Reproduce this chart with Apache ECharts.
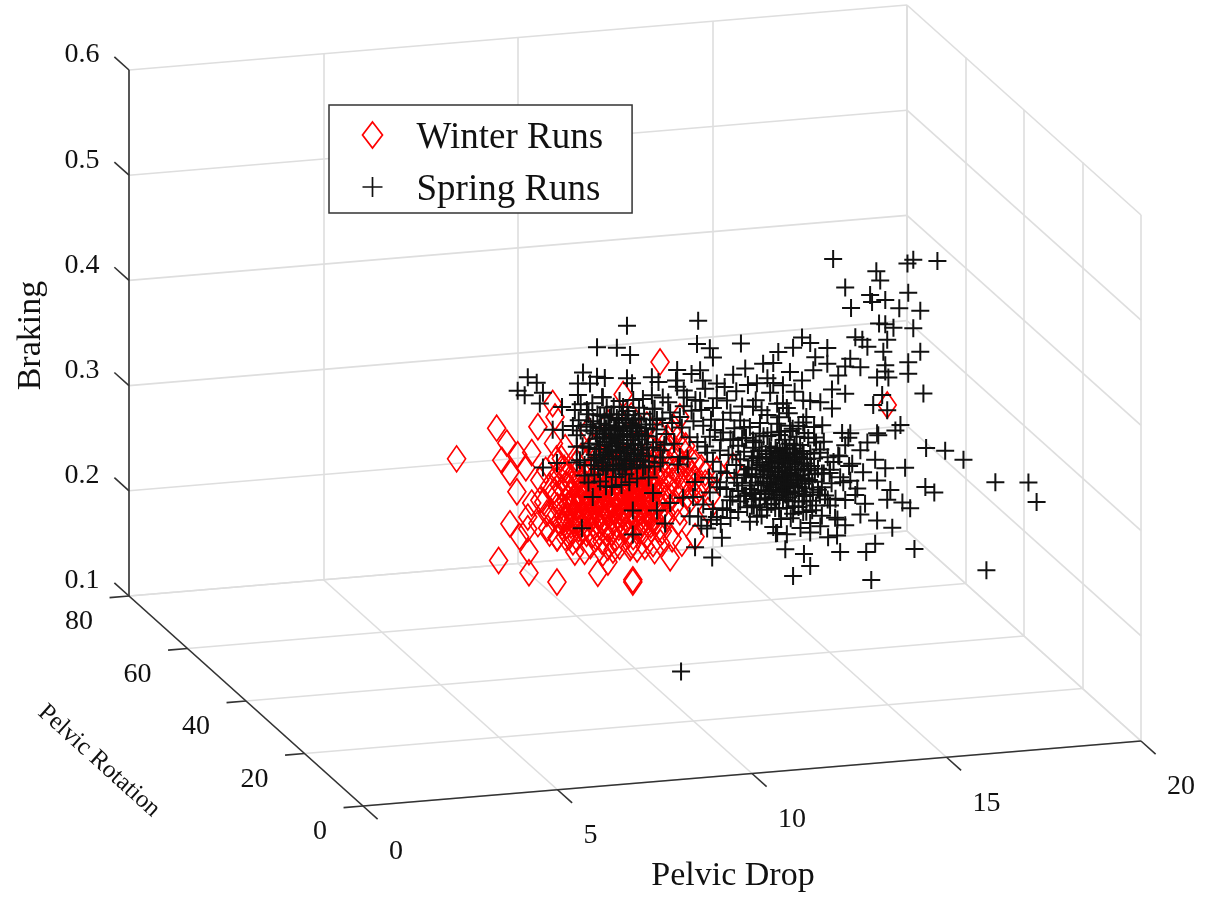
<!DOCTYPE html>
<html><head><meta charset="utf-8">
<style>html,body{margin:0;padding:0;background:#fff}#c{width:1215px;height:897px}</style>
<script src="https://cdn.jsdelivr.net/npm/echarts@6/dist/echarts.min.js"></script>
</head><body><div id="c"></div>
<script>
const dropTicks=[0,5,10,15,20];
const rotationTicks=[0,20,40,60,80];
const brakingTicks=[0.1,0.2,0.3,0.4,0.5,0.6];
const rotationEstimate=20;
const winterRuns=[[3.91,.368],[4.94,.394],[6.00,.392],[6.38,.413],[6.44,.400],[5.20,.379],[5.48,.367],[5.07,.363],[5.84,.368],[5.28,.351],[5.69,.354],[5.46,.332],[5.84,.320],[5.28,.302],[5.74,.307],[5.53,.289],[5.74,.296],[6.00,.300],[6.49,.285],[5.77,.274],[4.99,.268],[5.77,.254],[6.49,.243],[7.54,.248],[7.67,.267],[7.93,.269],[7.80,.258],[8.44,.237],[8.19,.416],[6.05,.341],[6.05,.322],[6.23,.309],[9.14,.444],[9.65,.390],[11.02,.339],[9.86,.341],[10.60,.337],[10.37,.299],[10.04,.275],[9.40,.257],[8.44,.239],[8.37,.270],[8.96,.272],[9.70,.270],[14.98,.385],
[6.2,.350],[6.3,.335],[6.15,.320],[6.35,.310],[6.5,.345],[6.45,.325],[6.55,.300],[6.6,.360],[6.25,.295],[6.7,.285],[6.6,.315],[6.4,.375],[6.7,.370],
[6.9,.280],[7.2,.270],[7.4,.285],[7.65,.278],[7.9,.285],[8.1,.272],[8.3,.282],[8.55,.268],[8.8,.280],[9.0,.265],[9.2,.283],[9.45,.275],[9.6,.290],[7.05,.292],[7.6,.292],[8.2,.293],[8.7,.293],
[9.1,.300],[9.3,.315],[9.5,.305],[9.7,.320],[9.9,.310],[10.1,.318],[10.3,.325],[9.2,.340],[9.45,.330],[9.7,.345],[9.95,.335],[10.2,.340],[9.3,.360],[9.55,.355],[9.8,.362],[9.05,.352],[9.2,.320],[9.4,.345],[10.45,.312],[9.15,.375],[9.5,.380],
[7.1,.360],[7.4,.370],[7.7,.355],[8.0,.365],[8.3,.358],[8.6,.372],[8.9,.362],[7.3,.385],[7.8,.390],[8.4,.395],[8.8,.385],[7.5,.350],[8.15,.352],[8.75,.350],
[6.85,.296],[7.08,.298],[7.27,.295],[7.52,.297],[7.69,.299],[7.93,.295],[8.12,.297],[8.28,.296],[8.51,.298],[8.72,.295],[8.9,.297],
[6.75,.304],[6.98,.305],[7.18,.303],[7.4,.306],[7.58,.304],[7.83,.303],[8.0,.305],[8.22,.304],[8.41,.306],[8.63,.303],[8.82,.305],[9.02,.304],
[6.83,.311],[7.05,.313],[7.29,.312],[7.47,.310],[7.72,.311],[7.9,.313],[8.13,.312],[8.3,.310],[8.55,.313],[8.74,.311],[8.93,.310],[9.12,.309],
[6.72,.319],[6.95,.318],[7.16,.320],[7.38,.319],[7.6,.317],[7.8,.320],[8.04,.318],[8.23,.319],[8.44,.317],[8.65,.320],[8.85,.318],[9.05,.319],
[6.82,.326],[7.06,.327],[7.25,.325],[7.5,.326],[7.7,.328],[7.92,.325],[8.1,.327],[8.34,.326],[8.52,.328],[8.76,.325],[8.95,.327],
[6.75,.333],[6.97,.335],[7.18,.334],[7.42,.332],[7.62,.335],[7.84,.333],[8.03,.334],[8.25,.332],[8.46,.335],[8.67,.333],[8.88,.334],
[6.85,.342],[7.1,.341],[7.3,.343],[7.55,.342],[7.75,.340],[7.97,.343],[8.18,.341],[8.38,.342],[8.6,.340],[8.8,.343],
[6.62,.331],[6.68,.302],[6.73,.344],[6.78,.316],[6.81,.29],[6.87,.335],[6.92,.307],[6.96,.324],[7.01,.346],[7.03,.299],[7.09,.319],[7.12,.335],[7.15,.29],[7.21,.311],[7.23,.328],[7.26,.345],[7.32,.302],[7.35,.318],[7.37,.337],[7.44,.293],[7.46,.324],[7.48,.309],[7.54,.339],[7.56,.315],[7.63,.297],[7.65,.33],[7.67,.345],[7.73,.307],[7.76,.322],[7.78,.29],[7.85,.336],[7.87,.314],[7.89,.30],[7.95,.328],[7.98,.346],[8.02,.309],[8.06,.32],[8.08,.29],[8.11,.338],[8.16,.301],[8.18,.315],[8.2,.33],[8.26,.344],[8.27,.307],[8.32,.321],[8.36,.293],[8.39,.336],[8.43,.312],[8.47,.327],[8.49,.30],[8.53,.345],[8.57,.316],[8.6,.33],[8.64,.29],[8.68,.308],[8.71,.339],[8.74,.32],[8.79,.301],[8.84,.33],[8.87,.313],[8.91,.345],[8.96,.294],[8.99,.322],[9.03,.337],[9.08,.311],[7.0,.313],[7.33,.331],[7.61,.322],[7.91,.306],[8.21,.324],[8.5,.338],[8.81,.312],
[6.3,.29],[6.4,.303],[6.5,.315],[6.42,.33],[6.55,.335],[6.6,.35],[6.48,.36],[6.65,.305],[6.5,.285],[6.62,.295],[6.72,.335],[6.68,.35],
[6.8,.285],[7.0,.283],[7.25,.287],[7.5,.282],[7.75,.285],[8.0,.28],[8.25,.287],[8.45,.28],[8.65,.285],[8.9,.29],[9.1,.285],[9.3,.295],[6.95,.27],[7.35,.275],[7.8,.272],[8.4,.272],[8.75,.27],[9.15,.272],
[9.05,.293],[9.18,.305],[9.3,.30],[9.42,.315],[9.55,.32],[9.65,.30],[9.75,.33],[9.85,.315],[9.95,.32],[10.05,.33],[10.2,.325],[9.12,.33],[9.28,.335],[9.38,.325],[9.52,.34],[9.62,.335],[9.8,.345],[9.9,.35],[9.12,.345],[9.25,.35],[9.35,.37],[9.6,.37],[9.7,.36],[9.05,.36],[10.05,.345],[10.3,.335],
[6.9,.3],[7.13,.3],[7.35,.3],[7.55,.308],[7.8,.308],[8.05,.30],[8.33,.30],[8.55,.305],[8.78,.296],[6.88,.318],[7.1,.325],[7.3,.318],[7.52,.318],[7.74,.33],[7.96,.312],[8.17,.325],[8.37,.318],[8.6,.322],[8.8,.32],[9.0,.33],
[7.0,.355],[7.25,.355],[7.55,.36],[7.85,.35],[8.1,.355],[8.4,.35],[8.65,.35],[8.95,.35]];
const springRuns=[[13.59,.528],[14.70,.513],[14.80,.504],[13.90,.500],[14.54,.491],[14.59,.484],[14.93,.485],[15.52,.490],[15.50,.518],[15.65,.521],[16.27,.518],[14.05,.480],[15.29,.476],[15.83,.472],[14.77,.463],[14.93,.462],[15.14,.458],[15.65,.456],[14.16,.452],[14.34,.449],[14.47,.442],[14.98,.447],[15.83,.433],[14.88,.436],[13.44,.444],[12.79,.456],[12.56,.447],[13.00,.450],[12.18,.444],[14.03,.432],[13.13,.436],[13.44,.429],[15.52,.424],[14.93,.423],[14.29,.423],[13.90,.425],[14.93,.417],[15.52,.413],[14.72,.412],[15.01,.411],[13.72,.417],[13.08,.424],[12.48,.424],[12.79,.415],[12.05,.434],[13.56,.404],[13.90,.399],[15.91,.393],[14.85,.395],[14.62,.386],[14.98,.380],[13.56,.386],[13.26,.393],[12.82,.396],[12.30,.395],[15.32,.365],[15.19,.360],[14.72,.359],[14.03,.361],[13.82,.362],[13.31,.371],[12.82,.375],[12.48,.373],
[15.98,.341],[16.47,.337],[16.94,.327],[17.76,.303],[18.61,.300],[18.82,.281],[15.44,.324],[15.96,.304],[16.19,.298],[15.57,.285],[15.68,.246],[17.53,.220],[14.57,.220],[12.56,.230],[13.00,.238],[12.36,.256],[12.84,.250],[13.77,.249],[14.44,.247],[14.67,.254],[15.11,.268],[14.72,.276],[13.69,.265],[13.46,.264],[13.64,.282],[12.12,.272],[13.00,.279],[13.26,.275],[12.56,.289],[12.82,.290],[14.41,.293],[14.98,.295],[15.37,.291],[15.06,.304],[14.21,.308],[14.72,.314],[14.36,.323],[14.93,.325],[14.67,.334],[14.08,.332],[13.77,.320],[13.98,.357],[14.47,.351],[14.75,.357],[14.03,.316],[14.16,.302],[13.90,.298],[13.51,.294],[14.29,.283],[13.90,.274],[13.05,.291],[13.38,.304],[13.51,.328],[13.72,.341],[13.26,.348],[13.90,.350],[14.29,.344],
[12.36,.331],[12.2,.335],[12.5,.328],[12.1,.326],[12.6,.337],[12.3,.343],[12.45,.319],[12.0,.340],[12.75,.325],[11.9,.331],[12.25,.318],[12.55,.346],[12.85,.336],[11.8,.322],[12.15,.350],[12.4,.310],[12.7,.314],[12.95,.329],[11.7,.338],[12.05,.312],[12.6,.354],[13.05,.318],[11.6,.327],[12.3,.303],[12.8,.348],[11.95,.355],[13.1,.340],[11.5,.343],[12.0,.300],[12.55,.301],[13.2,.330],[11.45,.316],[11.75,.351],[12.9,.306],[12.35,.360],[11.35,.330],[13.3,.312],[11.6,.306],[12.65,.362],[12.1,.296],[11.85,.310],[12.42,.337],[12.28,.325],[12.18,.341],[12.52,.322],[12.33,.314],[12.62,.331],[12.02,.334],[12.22,.348],[12.48,.341],[12.72,.342],[11.98,.320],[12.12,.318],[12.38,.352],[12.68,.320],[12.82,.331],[11.88,.344],[11.72,.329],[13.0,.345],[12.44,.305],
[11.22,.455],[10.09,.458],[10.42,.453],[10.50,.444],[8.37,.453],[8.93,.430],[9.58,.435],[10.17,.433],[11.79,.434],[11.33,.431],[11.02,.426],[11.63,.416],[10.24,.423],[10.60,.419],[9.58,.419],[9.83,.408],[8.93,.413],[8.29,.431],[8.42,.426],[9.21,.410],[10.17,.404],[10.86,.402],[11.97,.406],[11.53,.394],[12.15,.395],[11.20,.382],[10.76,.384],[10.50,.396],[9.65,.390],[9.06,.389],[11.71,.378],[12.15,.376],[10.42,.369],[10.76,.372],[11.02,.364],[11.53,.362],[10.68,.355],[10.35,.354],[9.65,.352],[9.21,.353],[8.96,.363],[10.86,.333],[10.68,.320],[11.12,.323],[10.94,.307],[11.38,.299],[11.63,.289],[11.89,.295],[10.86,.298],[10.60,.292],[12.05,.278],[10.35,.282],[10.73,.272],[10.04,.265],[10.48,.254],[12.15,.272],[10.12,.294],[9.40,.309],[8.44,.305],[8.96,.320],[9.06,.303],[9.27,.290],[8.44,.282],[9.99,.313],[9.73,.313],[10.42,.316],[10.04,.327],[11.71,.305],
[7.52,.463],[8.03,.461],[5.74,.440],[5.97,.434],[5.48,.428],[5.66,.423],[6.13,.424],[6.05,.414],[6.62,.409],[7.16,.440],[7.52,.435],[7.72,.433],[7.03,.430],[7.34,.429],[7.03,.419],[7.67,.415],[6.38,.388],[6.64,.387],[7.00,.381],[6.49,.356],[6.13,.353],[7.08,.357],[7.13,.292],[7.41,.321],[7.90,.329],[8.19,.404],[7.77,.405],[7.26,.404],[8.29,.481],[10.12,.480],[9.68,.148],
[8.06,.370],[7.9,.375],[8.2,.366],[7.8,.362],[8.3,.378],[8.0,.385],[8.15,.355],[7.7,.380],[8.45,.368],[7.6,.370],[7.95,.350],[8.25,.392],[8.55,.380],[7.5,.358],[7.85,.395],[8.1,.345],[8.4,.352],[8.65,.362],[7.4,.384],[7.75,.345],[8.3,.400],[8.75,.375],[7.3,.368],[8.0,.338],[8.5,.392],[7.6,.398],[8.85,.355],[7.2,.352],[7.95,.405],[8.25,.340],[8.95,.385],[7.1,.385],[7.45,.342],[8.7,.345],[8.1,.410],[9.05,.368],[7.0,.370],[7.75,.330],[8.6,.402],[9.15,.348],[7.3,.400],[8.35,.332],[8.02,.362],[8.12,.378],[7.88,.368],[8.18,.384],[7.98,.376],[8.28,.360],[7.72,.372],[8.38,.372],[7.82,.384],[8.08,.392],[7.92,.358],[8.22,.350],[7.68,.356],[8.48,.358],[7.58,.386],[8.42,.386],[8.58,.372],[7.52,.376],
[10.3,.360],[10.5,.345],[10.7,.335],[10.9,.350],[11.1,.340],[11.3,.352],[10.4,.330],[10.6,.325],[10.85,.318],[11.05,.328],[11.25,.320],[11.4,.335],[11.0,.310],[11.2,.305],[10.75,.300],[11.5,.312],[11.15,.358],[10.95,.365],[11.35,.365],[11.45,.375],
[9.3,.375],[9.5,.365],[9.7,.380],[9.9,.370],[10.0,.385],[9.4,.395],[9.6,.345],[9.85,.350],[10.1,.365],[9.2,.390],[9.0,.400],[10.2,.395],[9.75,.400],
[12.4,.390],[12.6,.405],[12.9,.380],[13.1,.370],[12.7,.372],[12.2,.382],[12.5,.368],[13.0,.395],[12.3,.412],[11.9,.385],[12.0,.368],
[7.33,.372],[7.37,.351],[7.42,.393],[7.46,.361],[7.49,.381],[7.55,.347],[7.57,.366],[7.62,.390],[7.65,.353],[7.66,.377],[7.71,.397],[7.73,.360],[7.77,.369],[7.79,.349],[7.81,.388],[7.84,.356],[7.86,.379],[7.89,.398],[7.91,.364],[7.93,.346],[7.96,.383],[7.99,.371],[8.01,.355],[8.03,.394],[8.05,.377],[8.07,.349],[8.09,.386],[8.11,.361],[8.13,.373],[8.16,.397],[8.17,.345],[8.19,.369],[8.21,.381],[8.23,.357],[8.26,.389],[8.27,.347],[8.29,.375],[8.31,.364],[8.33,.396],[8.36,.352],[8.37,.383],[8.39,.362],[8.41,.345],[8.44,.376],[8.46,.391],[8.47,.354],[8.5,.367],[8.52,.384],[8.54,.348],[8.57,.359],[8.59,.392],[8.61,.377],[8.63,.352],[8.66,.386],[8.68,.367],[8.71,.356],[8.73,.396],[8.76,.346],[8.78,.382],[8.8,.364],[8.83,.374],[8.86,.350],[8.88,.390],[7.35,.388],[7.44,.356],[7.53,.399],[7.6,.36],[7.68,.349],[7.75,.385],[7.83,.372],
[11.42,.335],[11.47,.322],[11.53,.347],[11.56,.311],[11.62,.336],[11.66,.319],[11.69,.352],[11.74,.314],[11.77,.340],[11.79,.326],[11.83,.306],[11.86,.348],[11.89,.320],[11.92,.336],[11.94,.312],[11.97,.328],[11.99,.351],[12.01,.316],[12.03,.343],[12.06,.324],[12.08,.306],[12.09,.338],[12.11,.353],[12.14,.313],[12.16,.330],[12.19,.321],[12.21,.308],[12.23,.345],[12.26,.334],[12.27,.312],[12.29,.351],[12.32,.322],[12.34,.340],[12.36,.308],[12.39,.327],[12.41,.346],[12.43,.315],[12.46,.334],[12.47,.356],[12.49,.309],[12.51,.326],[12.54,.339],[12.57,.316],[12.58,.351],[12.61,.308],[12.64,.324],[12.66,.343],[12.69,.330],[12.71,.310],[12.74,.354],[12.77,.336],[12.79,.317],[12.83,.345],[12.86,.322],[12.88,.312],[12.92,.340],[12.97,.320],[13.02,.333],[13.07,.308],[11.5,.330],[11.65,.345],[11.82,.333],[11.96,.345],[12.13,.304],[12.37,.318],[12.63,.347],[12.84,.305],[13.12,.325],
[9.1,.425],[9.35,.405],[9.55,.425],[9.75,.415],[9.95,.43],[10.05,.405],[10.3,.415],[10.45,.385],[10.6,.405],[10.8,.415],[10.95,.39],[11.1,.41],[11.25,.395],[11.4,.415],[11.6,.40],[11.75,.39],[11.9,.42],[12.05,.415],[11.3,.375],[11.05,.375],[10.7,.365],[10.55,.375],[10.25,.38],[9.95,.395],[9.45,.385],[9.25,.365],[11.8,.365],[11.6,.36],[12.2,.365],[12.45,.385],
[9.9,.295],[10.2,.285],[10.5,.30],[10.7,.285],[10.95,.29],[11.15,.295],[11.3,.31],[10.25,.305],[10.45,.29],[11.45,.285],[11.55,.30],[11.75,.29],[12.25,.285],[12.5,.285],[12.7,.295],[12.9,.29],[13.15,.295],[13.2,.31],[13.35,.325],[13.45,.34],[13.55,.315],[13.45,.30],[13.6,.335],[13.15,.355],[12.95,.36],
[7.05,.395],[7.15,.37],[7.25,.39],[7.2,.342],[7.0,.355],[6.9,.39],[6.95,.405],[7.1,.41],[7.4,.41],[7.65,.415],[8.45,.41],[8.7,.41],[8.95,.40],[9.05,.38],[9.15,.36],[9.0,.345],[8.85,.335],[8.55,.335],[8.15,.33],[7.6,.335],[7.3,.335],
[11.0,.35],[11.2,.345],[11.3,.33],[11.15,.315],[11.35,.31],[11.5,.30],[11.7,.298],[11.9,.30],[12.2,.295],[12.4,.295],[12.6,.296],[12.8,.30],[13.0,.30],[13.25,.305],[13.3,.325],[13.25,.345],[13.35,.355],[13.1,.36],[12.85,.365],[12.55,.37],[12.25,.368],[11.9,.365],[11.7,.368],[11.55,.355],[11.25,.365],[13.5,.325],[13.65,.30],[13.75,.34],[13.85,.315],[14.0,.33],[13.7,.28],[13.3,.285],[13.0,.27],[12.75,.275],[12.4,.27]];

// Orthographic view of the 3D box onto the page-sized 2D cartesian system.
function project(drop,rotation,braking){
  const u=(80-rotation)/80;
  return [129+drop/20*778+u*234, 596-drop/20*65+u*210-(braking-0.1)/0.5*526];
}
const segs=[], axisSegs=[];
const seg=(arr,a,b)=>arr.push({coords:[project(...a),project(...b)]});
const zMin=brakingTicks[0], zMax=brakingTicks[brakingTicks.length-1];
dropTicks.forEach(d=>{
  seg(segs,[d,0,zMin],[d,80,zMin]);
  seg(segs,[d,80,zMin],[d,80,zMax]);
  seg(axisSegs,[d,0,zMin],[d,-5,zMin]);
});
rotationTicks.forEach(r=>{
  seg(segs,[0,r,zMin],[20,r,zMin]);
  seg(segs,[20,r,zMin],[20,r,zMax]);
  seg(axisSegs,[0,r,zMin],[-0.5,r,zMin]);
});
brakingTicks.forEach(b=>{
  seg(segs,[0,80,b],[20,80,b]);
  seg(segs,[20,80,b],[20,0,b]);
  seg(axisSegs,[0,80,b],[0,85,b]);
});
seg(axisSegs,[0,80,zMin],[0,80,zMax]);
seg(axisSegs,[0,80,zMin],[0,0,zMin]);
seg(axisSegs,[0,0,zMin],[20,0,zMin]);

const serif='"Liberation Serif","Times New Roman",serif';
const labelSeries=(items,size)=>({type:'scatter',silent:true,symbolSize:0,z:6,itemStyle:{opacity:1},
  data:items.map(it=>({value:it.pos,label:{show:true,position:'inside',formatter:it.text,color:'#111',
    fontFamily:serif,fontSize:size,offset:it.offset||[0,0],align:it.align||'center',verticalAlign:'middle',rotate:it.rotate||0}}))});
const shift=(p,dx,dy)=>[p[0]+dx,p[1]+dy];

const option={
  animation:false,backgroundColor:'#fff',
  grid:{left:0,right:0,top:0,bottom:0,containLabel:false},
  xAxis:{type:'value',min:0,max:1215,show:false},
  yAxis:{type:'value',min:0,max:897,inverse:true,show:false},
  legend:{left:329,top:105,orient:'vertical',padding:[8,29,4,31],itemGap:8,itemWidth:20,itemHeight:26,
    backgroundColor:'#fff',borderColor:'#333',borderWidth:1.5,selectedMode:false,
    formatter:'{a|{name}}',
    textStyle:{fontFamily:serif,fontSize:37,color:'#111',
      rich:{a:{fontFamily:serif,fontSize:37,color:'#111',lineHeight:37,padding:[7,0,0,29]}}},
    data:[{name:'Winter Runs',icon:'diamond',itemStyle:{color:'#fff',borderColor:'#f00',borderWidth:1.7}},
          {name:'Spring Runs',icon:'path://M0,9H18M9,0V18',itemStyle:{color:'none',borderColor:'#111',borderWidth:1.7}}]},
  series:[
    {type:'lines',coordinateSystem:'cartesian2d',silent:true,z:1,lineStyle:{color:'#dedede',width:1.6,opacity:1},data:segs},
    {type:'lines',coordinateSystem:'cartesian2d',silent:true,z:3,lineStyle:{color:'#333',width:1.6,opacity:1},data:axisSegs},
    {name:'Winter Runs',type:'scatter',silent:true,z:4,symbol:'diamond',symbolSize:[18,26],
      itemStyle:{color:'transparent',borderColor:'#f00',borderWidth:1.7,opacity:1},
      data:winterRuns.map(p=>project(p[0],rotationEstimate,p[1]))},
    {name:'Spring Runs',type:'scatter',silent:true,z:5,symbol:'path://M0,9H18M9,0V18',symbolSize:18,
      itemStyle:{color:'none',borderColor:'#111',borderWidth:2,opacity:1},
      data:springRuns.map(p=>project(p[0],rotationEstimate,p[1]))},
    labelSeries(brakingTicks.map(b=>({pos:project(0,80,b),text:b.toFixed(1),offset:[-47,-15]})),28),
    labelSeries(rotationTicks.map(r=>({pos:project(0,r,zMin),text:String(r),align:'right',offset:[-36,26]})),28),
    labelSeries(dropTicks.map(d=>({pos:project(d,0,zMin),text:String(d),align:'left',offset:[26,46]})),28),
    labelSeries([{pos:shift(project(10,0,zMin),-19,103),text:'Pelvic Drop'}],34),
    labelSeries([{pos:shift(project(0,40,zMin),-147,60),text:'Pelvic Rotation',rotate:-42}],25),
    labelSeries([{pos:shift(project(0,80,0.3),-98,-50),text:'Braking',rotate:90}],34)
  ]
};
echarts.init(document.getElementById('c'),null,{renderer:'canvas'}).setOption(option);
</script></body></html>
